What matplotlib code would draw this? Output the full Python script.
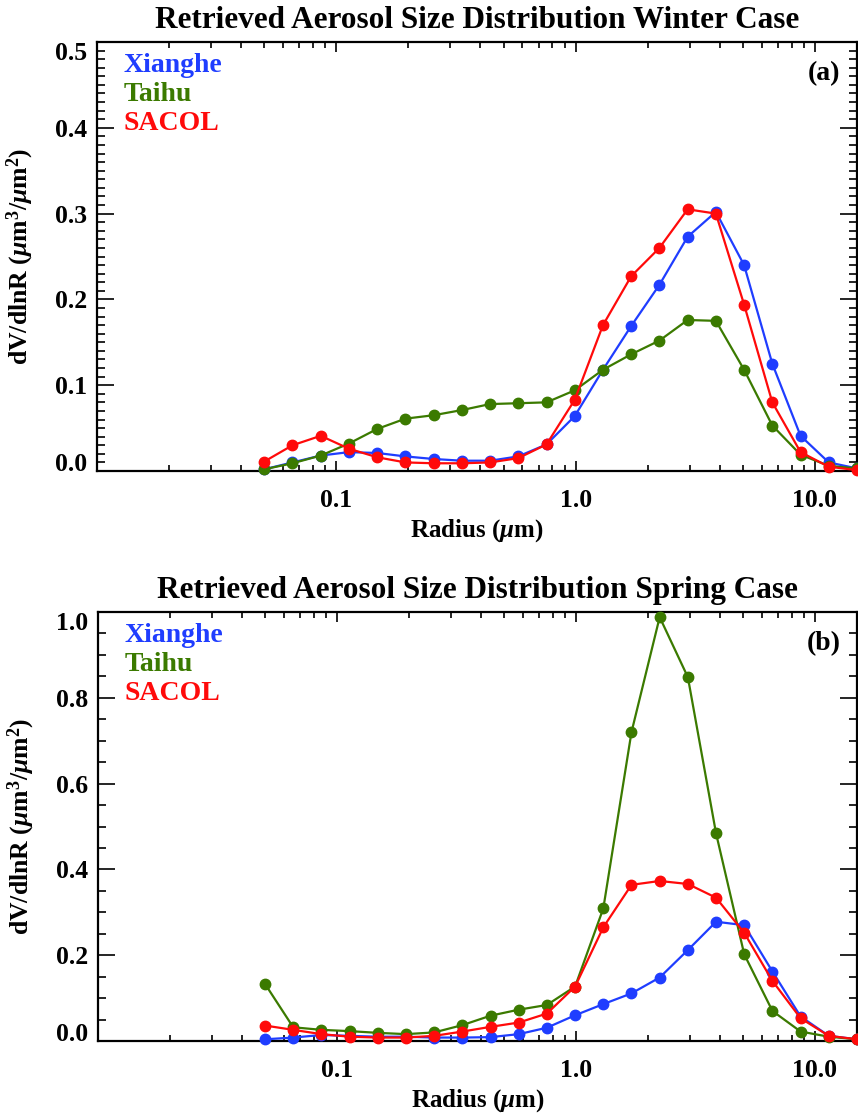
import numpy as np
import matplotlib
matplotlib.use("Agg")
import matplotlib.pyplot as plt
from matplotlib.ticker import FixedLocator, MultipleLocator, LogLocator, NullFormatter

plt.rcParams['font.family'] = 'Liberation Serif'
plt.rcParams['font.weight'] = 'bold'
plt.rcParams['mathtext.fontset'] = 'custom'
plt.rcParams['mathtext.rm'] = 'Liberation Serif:bold'
plt.rcParams['mathtext.it'] = 'Liberation Serif:italic:bold'
plt.rcParams['mathtext.bf'] = 'Liberation Serif:bold'

# rayons des 22 classes (um)
radius = [0.05, 0.0656, 0.0861, 0.1129, 0.1482, 0.1944, 0.2551, 0.3347,
          0.4392, 0.5762, 0.7561, 0.9920, 1.3016, 1.7078, 2.2407, 2.9400,
          3.8575, 5.0613, 6.6407, 8.7131, 11.4323, 15.0]

# cas hiver
winter_xianghe = [0.002, 0.010, 0.018, 0.022, 0.021, 0.017, 0.014, 0.012, 0.012, 0.017, 0.031,
                  0.064, 0.118, 0.169, 0.217, 0.273, 0.302, 0.240, 0.125, 0.041, 0.010, 0.003]
winter_taihu = [0.002, 0.009, 0.018, 0.032, 0.049, 0.061, 0.065, 0.071, 0.078, 0.079, 0.080,
                0.094, 0.118, 0.136, 0.152, 0.176, 0.175, 0.118, 0.053, 0.019, 0.006, 0.003]
winter_sacol = [0.011, 0.030, 0.041, 0.026, 0.016, 0.010, 0.009, 0.009, 0.010, 0.015, 0.031,
                0.083, 0.170, 0.227, 0.260, 0.305, 0.300, 0.194, 0.080, 0.022, 0.005, 0.001]

# cas printemps
spring_xianghe = [0.004, 0.008, 0.014, 0.012, 0.010, 0.010, 0.008, 0.008, 0.009, 0.016, 0.031,
                  0.060, 0.086, 0.111, 0.148, 0.212, 0.278, 0.270, 0.162, 0.057, 0.012, 0.004]
spring_taihu = [0.133, 0.032, 0.026, 0.023, 0.019, 0.016, 0.020, 0.037, 0.059, 0.073, 0.084,
                0.127, 0.309, 0.720, 0.988, 0.848, 0.484, 0.202, 0.070, 0.022, 0.010, 0.004]
spring_sacol = [0.036, 0.026, 0.016, 0.010, 0.008, 0.008, 0.012, 0.022, 0.033, 0.043, 0.064,
                0.127, 0.265, 0.364, 0.373, 0.366, 0.334, 0.252, 0.140, 0.053, 0.012, 0.004]

sites = ['Xianghe', 'Taihu', 'SACOL']
colors = ['#1f3dff', '#3b7a00', '#ff0a0a']

xtick_vals = [0.1, 1.0, 10.0]
xtick_labels = ['0.1', '1.0', '10.0']


def draw_panel(ax, series, title, tag, ymax, ystep, yminor):
    for vals, col in zip(series, colors):
        ax.plot(radius, vals, '-o', color=col, lw=1.6, ms=7.5, clip_on=False, zorder=3)
    ax.set_xscale('log')
    ax.set_xlim(0.01, 15)
    ax.set_ylim(0, ymax)

    ax.xaxis.set_major_locator(FixedLocator([0.01] + xtick_vals))
    ax.set_xticklabels([''] + xtick_labels)
    ax.xaxis.set_minor_locator(LogLocator(base=10, subs=np.arange(2, 10)))
    ax.xaxis.set_minor_formatter(NullFormatter())
    yt = np.round(np.arange(0, ymax + ystep / 2, ystep), 2)
    ax.set_yticks(yt)
    ax.set_yticklabels(['%.1f' % v for v in yt])
    ax.yaxis.set_minor_locator(MultipleLocator(yminor))

    ax.tick_params(axis='both', which='both', direction='in', top=True, right=True, width=1.2)
    ax.tick_params(axis='x', which='major', length=7, pad=13, labelsize=18.5)
    ax.tick_params(axis='x', which='minor', length=4)
    ax.tick_params(axis='y', which='major', length=12, pad=7, labelsize=18.5)
    ax.tick_params(axis='y', which='minor', length=6)
    for s in ax.spines.values():
        s.set_linewidth(1.6)

    ax.set_title(title, fontsize=22.5, fontweight='bold', pad=10)
    ax.set_xlabel(r'Radius ($\mu$m)', fontsize=18, fontweight='bold', labelpad=4)
    ax.set_ylabel(r'dV/dlnR ($\mu$m$^3$/$\mu$m$^2$)', fontsize=18.5, fontweight='bold', labelpad=14)

    for i, (name, col) in enumerate(zip(sites, colors)):
        ax.text(0.035, 0.945 - i * 0.068, name, color=col, fontsize=20, fontweight='bold',
                transform=ax.transAxes, va='center', ha='left')
    ax.text(0.978, 0.927, tag, fontsize=20, fontweight='bold', transform=ax.transAxes,
            va='center', ha='right')

    # étiquettes des extrémités décalées vers l'intérieur
    labels = ax.get_yticklabels()
    labels[0].set_va('baseline')
    labels[-1].set_va('top')


fig = plt.figure(figsize=(8.58, 11.16), dpi=100)
ax1 = fig.add_axes([97 / 858, 1 - 471 / 1116, 760 / 858, 429 / 1116])
ax2 = fig.add_axes([98 / 858, 1 - 1041 / 1116, 759 / 858, 429 / 1116])

draw_panel(ax1, [winter_xianghe, winter_taihu, winter_sacol],
           'Retrieved Aerosol Size Distribution Winter Case', '(a)', 0.5, 0.1, 0.01)
draw_panel(ax2, [spring_xianghe, spring_taihu, spring_sacol],
           'Retrieved Aerosol Size Distribution Spring Case', '(b)', 1.0, 0.2, 0.05)

fig.savefig('out.png', dpi=100)
